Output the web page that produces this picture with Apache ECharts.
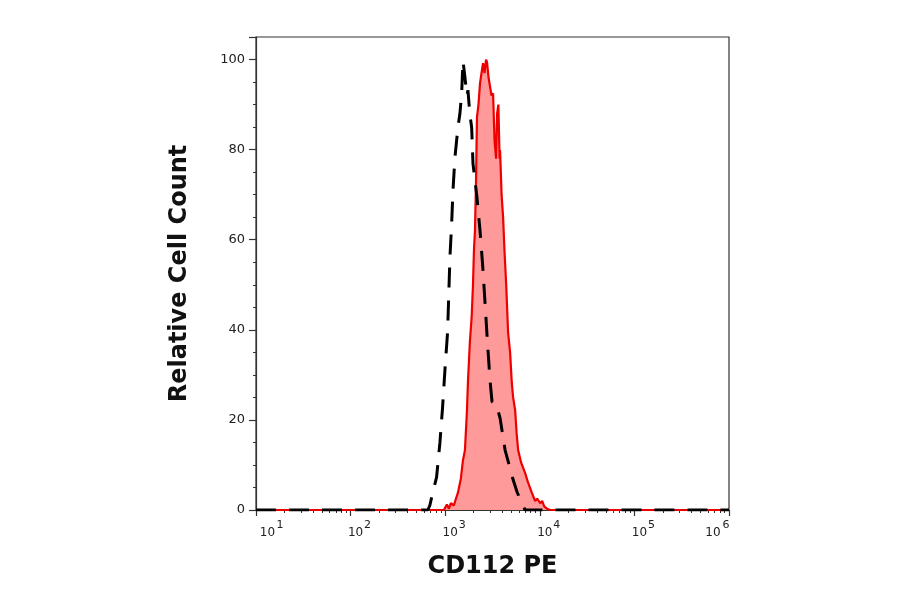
<!DOCTYPE html>
<html>
<head>
<meta charset="utf-8">
<script src="https://cdn.jsdelivr.net/npm/echarts@6/dist/echarts.min.js"></script>
<style>
  html, body { margin: 0; padding: 0; background: #fff; }
  #chart { width: 900px; height: 594px; }
</style>
</head>
<body>
<div id="chart"></div>
<script>
// CD112 PE 荧光强度（对数轴）与相对细胞计数
const stainedX = [10, 100, 500, 900, 968, 1042, 1095, 1148, 1236, 1297, 1362, 1465, 1540, 1617,
  1698, 1738, 1820, 1903, 1967, 2014, 2064, 2115, 2167, 2248, 2333, 2420, 2512, 2605, 2702,
  2768, 2872, 2977, 3088, 3206, 3325, 3450, 3537, 3648, 3757, 3802, 3945, 4093, 4246, 4405,
  4626, 4853, 5058, 5224, 5486, 5690, 5902, 6350, 7000, 7540, 8250, 8930, 9380, 10100, 10600,
  11130, 11900, 12900, 100000, 1000000];
const stainedY = [0, 0, 0, 0, 0, 1.2, 0.3, 1.5, 1.0, 2.5, 3.8, 7, 11, 13.3,
  22, 28.2, 37, 42.8, 50, 57.7, 62, 72.5, 87.2, 90, 94.7, 97, 99.2, 97, 100,
  99.4, 96, 96, 92, 92.5, 82, 78, 88, 90, 78, 79.9, 70, 65, 57, 50.4,
  39.3, 35, 28.2, 25, 22.2, 17, 13.3, 10.5, 8.2, 6, 3.8, 2, 2.5, 1.5, 2.0,
  0.8, 0.3, 0, 0, 0];

const controlX = [10, 100, 400, 655, 688, 741, 811, 879, 938, 993, 1060, 1094, 1122, 1170, 1208,
  1268, 1364, 1431, 1493, 1541, 1618, 1698, 1740, 1820, 1904, 1967, 2167, 2334, 2494, 2637,
  2788, 2977, 3126, 3450, 3801, 4295, 5224, 5750, 6459, 7000, 100000, 1000000];
const controlY = [0, 0, 0, 0, 1, 4, 7.3, 14.9, 22.8, 31, 39.5, 48.8, 56, 63.6, 70.9,
  78.3, 85, 88, 92.5, 99.7, 96, 92, 93.2, 88, 84.9, 76.9, 69.4, 62, 54, 46,
  37.7, 28.8, 24, 23.7, 20.4, 13.3, 6.7, 4, 1.5, 0, 0, 0];

const yMinor = [5, 10, 15, 25, 30, 35, 45, 50, 55, 65, 70, 75, 85, 90, 95];
const xMinor = [];
for (let e = 1; e < 6; e++) {
  for (let k = 2; k <= 9; k++) xMinor.push(k * Math.pow(10, e));
}

const axisColor = '#333';
const txt = { fontFamily: 'DejaVu Sans', color: '#222' };
const chart = echarts.init(document.getElementById('chart'));

// 对数轴的共用设置
function logAxis(extra) {
  return Object.assign({
    type: 'log', logBase: 10, min: 10, max: 1000000, position: 'bottom',
    splitLine: { show: false }
  }, extra);
}

chart.setOption({
  animation: false,
  backgroundColor: '#fff',
  grid: {
    left: 256, right: 171, top: 37, bottom: 84,
    show: true, borderColor: axisColor, borderWidth: 1.2
  },
  xAxis: [
    // 主刻度 + "10"
    logAxis({
      name: 'CD112 PE', nameLocation: 'middle', nameGap: 45,
      nameTextStyle: { fontFamily: 'DejaVu Sans', fontWeight: 'bold', fontSize: 24, color: '#111' },
      axisLine: { lineStyle: { color: axisColor, width: 1.2 } },
      axisTick: { show: true, length: 6, lineStyle: { color: axisColor, width: 1.2 } },
      axisLabel: {
        margin: 17,
        formatter: function (v) {
          const e = Math.round(Math.log10(v));
          if (e === 1) return '{f|10}';
          if (e === 6) return '{l|10}';
          return '{m|10}';
        },
        rich: {
          f: Object.assign({ fontSize: 12, padding: [0, 0, 0, 23] }, txt),
          m: Object.assign({ fontSize: 12, padding: [0, 0, 0, 10] }, txt),
          l: Object.assign({ fontSize: 12, padding: [0, 32, 0, 0] }, txt)
        }
      }
    }),
    // 次刻度
    logAxis({
      axisLine: { show: false },
      axisLabel: { show: false },
      axisTick: { show: true, customValues: xMinor, length: 3, lineStyle: { color: axisColor, width: 1 } }
    }),
    // 上标指数
    logAxis({
      axisLine: { show: false },
      axisTick: { show: false },
      axisLabel: {
        margin: 10,
        formatter: function (v) {
          const e = Math.round(Math.log10(v));
          if (e === 1) return '{f|' + e + '}';
          if (e === 6) return '{l|' + e + '}';
          return '{m|' + e + '}';
        },
        rich: {
          f: Object.assign({ fontSize: 11, padding: [0, 0, 0, 48] }, txt),
          m: Object.assign({ fontSize: 11, padding: [0, 0, 0, 34] }, txt),
          l: Object.assign({ fontSize: 11, padding: [0, 6, 0, 0] }, txt)
        }
      }
    })
  ],
  yAxis: [
    {
      type: 'value', min: 0, max: 105, interval: 20, position: 'left',
      name: 'Relative Cell Count', nameLocation: 'middle', nameGap: 64,
      nameTextStyle: { fontFamily: 'DejaVu Sans', fontWeight: 'bold', fontSize: 24, color: '#111' },
      axisLine: { show: true, lineStyle: { color: axisColor, width: 1.2 } },
      axisTick: { show: true, length: 7, lineStyle: { color: axisColor, width: 1.2 } },
      splitLine: { show: false },
      axisLabel: {
        margin: 11, fontFamily: 'DejaVu Sans', fontSize: 13, color: '#222',
        formatter: function (v) { return v > 100 ? '' : String(v); }
      }
    },
    {
      type: 'value', min: 0, max: 105, position: 'left',
      axisLine: { show: false },
      axisLabel: { show: false },
      splitLine: { show: false },
      axisTick: { show: true, customValues: yMinor, length: 3, lineStyle: { color: axisColor, width: 1 } }
    }
  ],
  series: [
    {
      name: 'CD112 PE',
      type: 'line',
      data: stainedX.map((x, i) => [x, stainedY[i]]),
      showSymbol: false,
      lineStyle: { color: '#ee0000', width: 2.2 },
      areaStyle: { color: '#ff9a9a', opacity: 1 },
      z: 2
    },
    {
      name: 'Control',
      type: 'line',
      data: controlX.map((x, i) => [x, controlY[i]]),
      showSymbol: false,
      lineStyle: { color: '#000', width: 3, type: [20, 13] },
      z: 3
    }
  ]
});
</script>
</body>
</html>
